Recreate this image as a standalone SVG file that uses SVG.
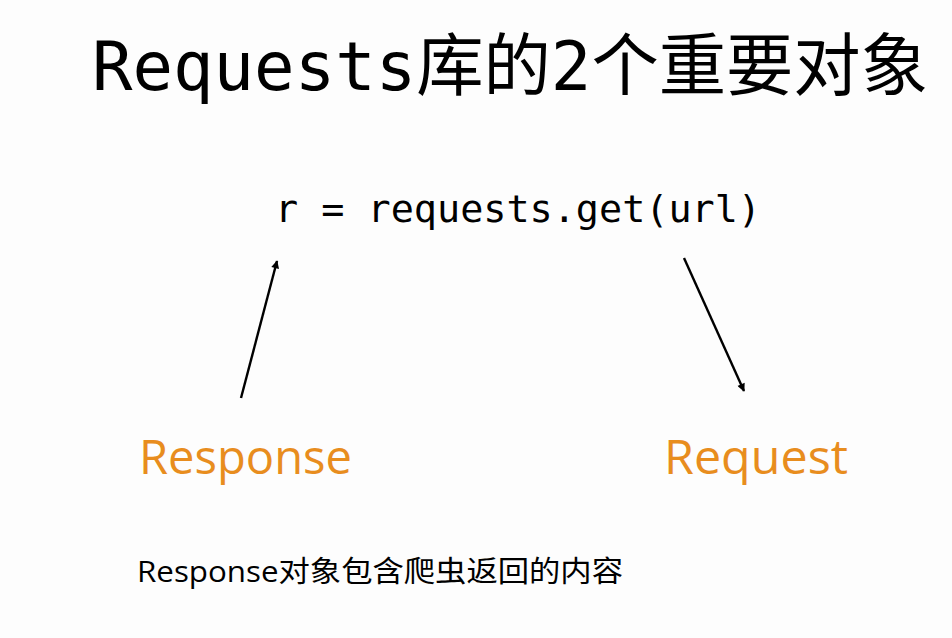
<svg xmlns="http://www.w3.org/2000/svg" width="952" height="638" viewBox="0 0 952 638">
<style>
.title{font-family:"DejaVu Sans Mono","Noto Sans CJK SC",monospace;font-size:68px;fill:#000}
.code{font-family:"DejaVu Sans Mono","Liberation Mono",monospace;font-size:38px;fill:#000}
.obj{font-family:"Open Sans","Noto Sans",sans-serif;font-size:47px;fill:#E88D1E}
.note{font-family:"Open Sans","Noto Sans CJK SC",sans-serif;font-size:29px;fill:#000}
.conn{stroke:#000;stroke-width:2.4;fill:none}
</style>
<defs>
<marker id="ah" viewBox="0 0 10 10" refX="9" refY="5" markerWidth="10" markerHeight="8" markerUnits="userSpaceOnUse" orient="auto">
<path d="M0,0 L10,5 L0,10 z" fill="#000"/>
</marker>
</defs>
<rect width="952" height="638" fill="#fdfdfd"/>
<g id="title"><text class="title" x="92" y="90" textLength="836" lengthAdjust="spacingAndGlyphs">Requests库的2个重要对象</text></g>
<g id="code"><text class="code" x="275" y="222" textLength="486" lengthAdjust="spacingAndGlyphs">r = requests.get(url)</text></g>
<g id="response"><text class="obj" x="139" y="474" textLength="213" lengthAdjust="spacingAndGlyphs">Response</text></g>
<g id="request"><text class="obj" x="664" y="474" textLength="184" lengthAdjust="spacingAndGlyphs">Request</text></g>
<g id="note"><text class="note" x="137" y="582" textLength="486" lengthAdjust="spacingAndGlyphs">Response对象包含爬虫返回的内容</text></g>
<g id="connectors">
<line class="conn" x1="241" y1="398" x2="277" y2="261" marker-end="url(#ah)"/>
<line class="conn" x1="684" y1="258" x2="744" y2="391" marker-end="url(#ah)"/>
</g>
</svg>
